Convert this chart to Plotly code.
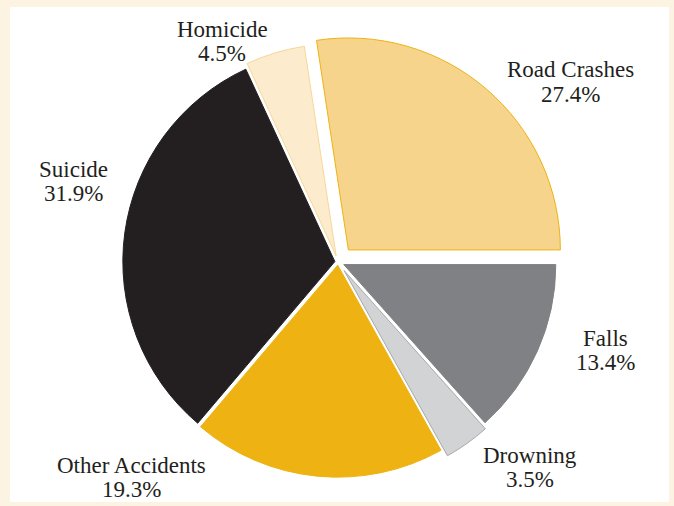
import plotly.graph_objects as go

# Share of injury deaths by cause
causes = ["Road Crashes", "Falls", "Drowning", "Other Accidents", "Suicide", "Homicide"]
shares = [27.4, 13.4, 3.5, 19.3, 31.9, 4.5]

fill_colors = ["#f6d48c", "#808184", "#d1d3d4", "#eeb312", "#231f20", "#fcebcd"]
edge_colors = ["#eeb312", "#808184", "#a7a9ac", "#eeb312", "#231f20", "#f5d89a"]
pulls = [0.075, 0.03, 0.05, 0.015, 0.015, 0.03]

W, H = 674, 506
cx, cy, R = 338, 262, 212
half = R * (1 + max(pulls))

fig = go.Figure(go.Pie(
    labels=causes,
    values=shares,
    sort=False,
    direction="clockwise",
    rotation=-shares[0] * 3.6 + 90,
    pull=pulls,
    marker=dict(colors=fill_colors, line=dict(color=edge_colors, width=1)),
    textinfo="none",
    hoverinfo="label+percent",
    showlegend=False,
    domain=dict(x=[(cx - half) / W, (cx + half) / W],
                y=[1 - (cy + half) / H, 1 - (cy - half) / H]),
))

# label positions (pixel centre x, baseline of first line)
label_pos = {
    "Road Crashes": (570, 78),
    "Falls": (605, 346),
    "Drowning": (530, 463),
    "Other Accidents": (131, 473),
    "Suicide": (73, 177),
    "Homicide": (222, 37),
}
font = dict(family="Liberation Serif, Times New Roman, serif", size=23, color="#231f20")
annotations = []
for name, val in zip(causes, shares):
    x, base = label_pos[name]
    for i, txt in enumerate([name, f"{val:.1f}%"]):
        yb = base + 24 * i
        annotations.append(dict(
            text=txt, x=x / W, y=1 - (yb - 8) / H, xref="paper", yref="paper",
            xanchor="center", yanchor="middle", showarrow=False, font=font,
        ))

fig.update_layout(
    width=W, height=H,
    margin=dict(l=0, r=0, t=0, b=0),
    paper_bgcolor="#fcf3e2",
    annotations=annotations,
    shapes=[dict(type="rect", xref="paper", yref="paper",
                 x0=10 / W, x1=669 / W, y0=1 - 502 / H, y1=1 - 7 / H,
                 fillcolor="#ffffff", line=dict(width=0), layer="below")],
)

fig.write_html("out.html")
